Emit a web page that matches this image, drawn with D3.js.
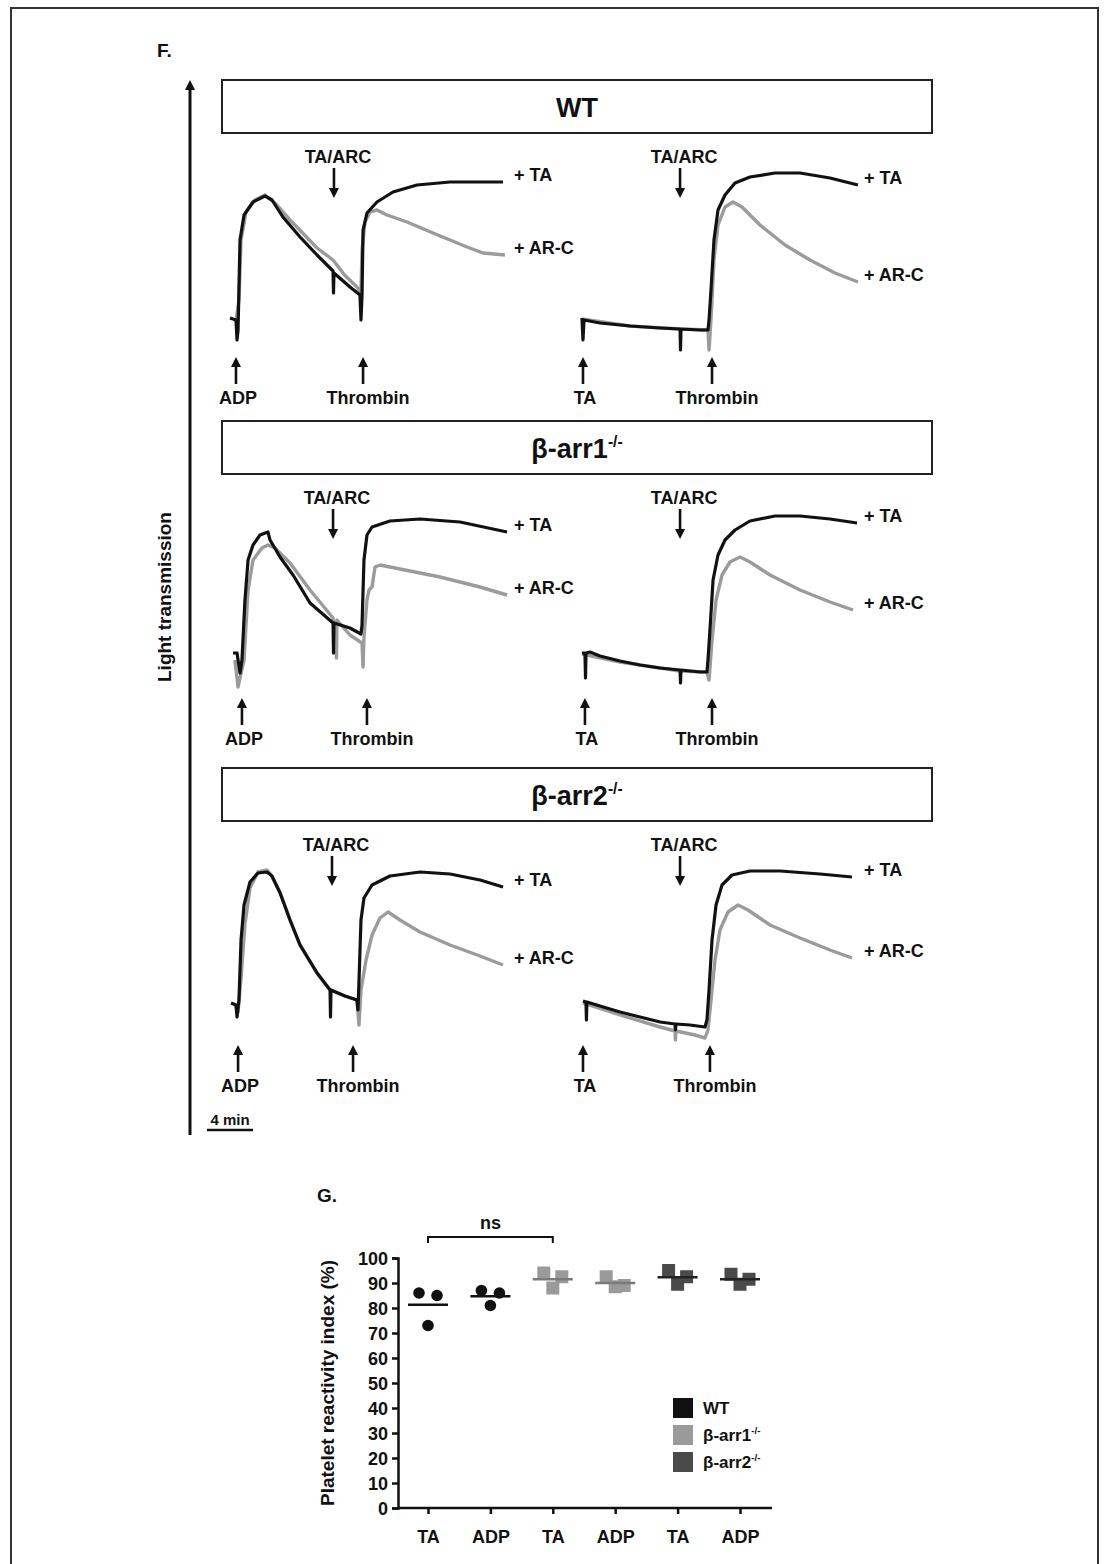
<!DOCTYPE html>
<html>
<head>
<meta charset="utf-8">
<script src="https://cdn.jsdelivr.net/npm/d3@7"></script>
<style>
  body { margin: 0; background: #fff; }
  text { font-family: "Liberation Sans", Arial, sans-serif; font-weight: bold; fill: #111; }
</style>
</head>
<body>
<svg id="fig" width="1104" height="1564"></svg>
<script>
// ---- aggregation traces, [time (min), light transmission (%)] ----
var wtAdpBlack = [[0,21],[0.52,20],[0.61,10],[0.7,15],[0.87,60],[1.22,72.5],[2.0,79],[3.04,82],[3.65,80],[4.6,71.5],[6.09,61.5],[7.57,52.5],[8.96,44.5],[9.0,33.5],[9.04,43.5],[10.43,36.5],[11.3,32.5],[11.39,20],[11.48,32],[11.57,65],[11.91,73.5],[12.78,79],[14.17,84],[16.26,87.5],[19.13,89],[23.74,89]];
var wtAdpGray = [[0.52,19],[0.78,30],[0.96,60],[1.39,74],[2.17,80],[3.04,82.5],[3.91,78.5],[5.22,70],[7.57,56],[8.96,50],[9.96,42.5],[11.04,36.5],[11.39,33.5],[11.48,55],[11.74,69],[12.17,74],[12.78,75],[13.65,72.5],[15.39,69],[17.65,63.5],[20.61,56.5],[22.0,53.5],[23.91,52.5]];
var wtTaBlack = [[0.17,21],[0.26,10],[0.35,20],[1.74,18.5],[4.35,17],[6.96,16],[8.7,15.5],[8.74,5],[8.78,15.5],[10.43,15],[11.13,15],[11.22,20],[11.39,35],[11.65,60],[12.0,75],[12.61,82.5],[13.48,88.5],[14.78,91.5],[16.96,93.5],[19.13,93.5],[21.74,91],[24.17,87.5]];
var wtTaGray = [[0.17,20.5],[4.35,17],[8.7,15.5],[11.13,15],[11.22,5],[11.39,20],[11.65,50],[12.0,67.5],[12.61,76.5],[13.3,79],[14.09,76.5],[15.65,67.5],[17.83,57.5],[20.0,50],[22.17,43.5],[24.17,39]];

var arr1AdpBlack = [[0.26,24],[0.61,24],[0.87,14],[1.04,20.5],[1.3,50.5],[1.57,70.5],[2.0,78],[2.61,83],[3.3,84.5],[3.48,80.5],[4.35,72],[5.48,63],[6.96,49],[8.96,39],[9.0,24],[9.04,39],[10.43,36.5],[11.39,33.5],[11.48,38],[11.65,70.5],[11.91,83],[12.35,87],[13.91,90],[16.52,91],[20.0,89.5],[24.09,84.5]];
var arr1AdpGray = [[0.43,20.5],[0.7,7],[1.22,20.5],[1.57,55.5],[2.0,70.5],[2.78,76.5],[3.3,78],[3.91,76.5],[5.22,69],[6.96,55.5],[8.96,41.5],[9.26,21.5],[9.3,40.5],[10.43,33],[11.48,29],[11.57,17],[11.65,32],[11.91,50.5],[12.09,55.5],[12.35,57],[12.61,67],[13.04,68],[14.78,66],[18.26,62],[21.74,57],[24.09,53]];
var arr1TaBlack = [[0.17,24],[0.43,24],[0.48,11.5],[0.52,24],[0.87,24.5],[1.74,22.5],[3.48,20],[5.22,18],[6.96,16.5],[8.7,15.5],[8.74,9],[8.78,15.5],[10.43,14.5],[11.04,14.5],[11.13,20.5],[11.3,35.5],[11.57,60.5],[12.0,73],[12.61,80.5],[13.48,85.5],[14.78,90],[16.96,92.5],[19.13,92.5],[21.74,91],[24.09,89]];
var arr1TaGray = [[0.17,23.5],[3.48,19.5],[8.7,15],[11.04,14.5],[11.22,10.5],[11.48,30.5],[11.83,50.5],[12.35,63],[13.04,69.5],[13.91,72],[14.78,69.5],[16.52,63],[19.13,55.5],[21.74,49.5],[23.74,45.5]];

var arr2AdpBlack = [[0.09,22.5],[0.52,21.5],[0.61,15.5],[0.78,24],[0.96,54],[1.22,71.5],[1.74,83],[2.43,87.5],[3.22,88],[3.65,86],[4.35,77.5],[5.22,64],[6.09,51.5],[7.57,37.5],[8.7,29],[8.74,15.5],[8.78,29],[10.0,26],[11.04,24],[11.13,19],[11.22,34],[11.39,64],[11.65,75],[12.35,81.5],[13.91,86],[16.52,88],[19.13,87],[21.74,84],[23.74,80.5]];
var arr2AdpGray = [[0.52,21.5],[0.7,18],[0.96,35],[1.3,62],[1.74,80],[2.43,88],[3.22,89],[3.57,86.5],[4.35,78],[5.22,64],[6.09,51.5],[7.57,37.5],[8.7,29],[10.0,26],[11.04,24],[11.22,11.5],[11.39,29],[11.83,44],[12.35,56.5],[13.04,65],[13.74,68],[14.78,64],[16.52,58],[19.13,51.5],[21.74,46],[23.74,41.5]];
var arr2TaBlack = [[0.26,23.5],[0.52,23],[0.56,14],[0.6,23],[1.74,21],[3.48,18],[5.22,15.5],[6.96,13],[8.26,12],[8.3,9],[8.34,12],[9.57,11.5],[10.87,10.5],[11.04,14],[11.22,29],[11.48,54],[11.83,71.5],[12.35,81.5],[13.22,86.5],[14.78,88.5],[17.39,88.5],[20.87,87],[23.65,85.5]];
var arr2TaGray = [[0.26,22.5],[3.48,16.5],[6.96,10.5],[8.26,8.5],[8.3,4],[8.34,8.5],[10.0,6.5],[10.87,5],[11.13,9],[11.39,24],[11.74,44],[12.17,59],[12.87,68],[13.74,71.5],[14.61,69],[16.52,61.5],[19.13,55],[21.74,49],[23.65,45]];

// injection times (min): agonist, TA/ARC, thrombin
var agonistTimes = [0.52, 0.26, 1.04, 0.43, 0.7, 0.26];
var taArcTimes = [9.04, 8.7, 8.96, 8.7, 8.87, 8.7];
var thrombinTimes = [11.57, 11.48, 11.91, 11.48, 10.7, 11.3];
var agonistNames = ['ADP', 'TA', 'ADP', 'TA', 'ADP', 'TA'];
var genotypes = ['WT', 'β-arr1', 'β-arr2'];

// ---- panel G: platelet reactivity index (%) ----
var groupNames = ['WT', 'β-arr1', 'β-arr2'];
var xLabels = ['TA', 'ADP', 'TA', 'ADP', 'TA', 'ADP'];
var wtTA = [86, 85, 73];
var wtADP = [87, 86, 81];
var arr1TA = [94, 92.5, 88];
var arr1ADP = [92.5, 89, 88.5];
var arr2TA = [95, 92.5, 89.5];
var arr2ADP = [93.5, 91.5, 89.5];
var yTicks = [0, 10, 20, 30, 40, 50, 60, 70, 80, 90, 100];

var svg = d3.select('#fig');
var font = '"Liberation Sans", Arial, sans-serif';

// outer frame
svg.append('rect')
  .attr('x', 11).attr('y', 8).attr('width', 1087).attr('height', 1600)
  .attr('fill', 'none').attr('stroke', '#333').attr('stroke-width', 2);

function arrow(g, x, yTail, yTip, w) {
  var dir = yTip < yTail ? -1 : 1;
  var head = 10;
  g.append('line')
    .attr('x1', x).attr('x2', x)
    .attr('y1', yTail).attr('y2', yTip - dir * head + dir)
    .attr('stroke', '#111').attr('stroke-width', w || 2.6);
  g.append('path')
    .attr('d', 'M' + (x - 5) + ',' + (yTip - dir * head) + 'L' + (x + 5) + ',' + (yTip - dir * head) + 'L' + x + ',' + yTip + 'Z')
    .attr('fill', '#111');
}

function genoLabel(sel, name, size) {
  sel.append('tspan').text(name);
  if (name !== 'WT') {
    sel.append('tspan').text('-/-')
      .attr('font-size', size * 0.58)
      .attr('dy', -size * 0.42);
  }
}

svg.append('text').attr('x', 157).attr('y', 57).attr('font-size', 19).text('F.');

// light transmission axis
var f = svg.append('g');
arrow(f, 190, 1135, 80, 3);
f.append('text')
  .attr('transform', 'translate(171,597) rotate(-90)')
  .attr('text-anchor', 'middle')
  .attr('font-size', 19)
  .text('Light transmission');

var rowTops = [80, 421, 768];
var traces = [
  [wtAdpBlack, wtAdpGray], [wtTaBlack, wtTaGray],
  [arr1AdpBlack, arr1AdpGray], [arr1TaBlack, arr1TaGray],
  [arr2AdpBlack, arr2AdpGray], [arr2TaBlack, arr2TaGray]
];

var xLeft;
rowTops.forEach(function(top, r) {
  var box = svg.append('g');
  box.append('rect')
    .attr('x', 222).attr('y', top).attr('width', 710).attr('height', 53)
    .attr('fill', '#fff').attr('stroke', '#222').attr('stroke-width', 2);
  box.append('text')
    .attr('x', 577).attr('y', top + 37)
    .attr('text-anchor', 'middle').attr('font-size', 27)
    .call(genoLabel, genotypes[r], 27);

  [0, 1].forEach(function(side) {
    var i = r * 2 + side;
    var x0 = side ? 580 : 230;
    var x = d3.scaleLinear().domain([0, 24]).range([x0, x0 + 276]);
    var y = d3.scaleLinear().domain([0, 100]).range([top + 280, top + 80]);
    if (i === 0) { xLeft = x; }
    var line = d3.line().x(function(d) { return x(d[0]); }).y(function(d) { return y(d[1]); });
    var g = svg.append('g');

    g.append('path').datum(traces[i][1])
      .attr('d', line).attr('fill', 'none')
      .attr('stroke', '#9b9b9b').attr('stroke-width', 3.4)
      .attr('stroke-linejoin', 'round');
    g.append('path').datum(traces[i][0])
      .attr('d', line).attr('fill', 'none')
      .attr('stroke', '#111').attr('stroke-width', 3.2)
      .attr('stroke-linejoin', 'round');

    // TA/ARC addition
    var xa = x(taArcTimes[i]);
    g.append('text').attr('x', xa + 4).attr('y', top + 83)
      .attr('text-anchor', 'middle').attr('font-size', 18).text('TA/ARC');
    arrow(g, xa, top + 88, top + 118);

    // agonist and thrombin
    var xg = x(agonistTimes[i]);
    arrow(g, xg, top + 304, top + 277);
    g.append('text').attr('x', xg + 2).attr('y', top + 324)
      .attr('text-anchor', 'middle').attr('font-size', 18).text(agonistNames[i]);
    var xt = x(thrombinTimes[i]);
    arrow(g, xt, top + 304, top + 277);
    g.append('text').attr('x', xt + 5).attr('y', top + 324)
      .attr('text-anchor', 'middle').attr('font-size', 18).text('Thrombin');

    var lastB = traces[i][0][traces[i][0].length - 1];
    var lastG = traces[i][1][traces[i][1].length - 1];
    g.append('text').attr('x', x(24) + 8).attr('y', y(lastB[1]) - 1)
      .attr('font-size', 18).text('+ TA');
    g.append('text').attr('x', x(24) + 8).attr('y', y(lastG[1]) - 1)
      .attr('font-size', 18).text('+ AR-C');
  });
});

// 4 min scale bar
svg.append('text').attr('x', xLeft(0)).attr('y', 1125)
  .attr('text-anchor', 'middle').attr('font-size', 15).text('4 min');
svg.append('line')
  .attr('x1', xLeft(-2)).attr('x2', xLeft(2))
  .attr('y1', 1130).attr('y2', 1130)
  .attr('stroke', '#111').attr('stroke-width', 2.5);

// ---- panel G ----
svg.append('text').attr('x', 317).attr('y', 1202).attr('font-size', 19).text('G.');

var groups = [
  { vals: wtTA, geno: 0 }, { vals: wtADP, geno: 0 },
  { vals: arr1TA, geno: 1 }, { vals: arr1ADP, geno: 1 },
  { vals: arr2TA, geno: 2 }, { vals: arr2ADP, geno: 2 }
];
var colors = ['#111', '#9a9a9a', '#4a4a4a'];
var meanColors = ['#111', '#7a7a7a', '#222'];

var yG = d3.scaleLinear().domain([0, 100]).range([1508, 1258]);
var xG = d3.scalePoint().domain(d3.range(xLabels.length)).range([428, 740]);
var jitter = d3.scalePoint().domain([0, 2, 1]).range([-9, 9]);

var gAxisY = svg.append('g').attr('transform', 'translate(398,0)')
  .call(d3.axisLeft(yG).tickValues(yTicks).tickSize(6).tickPadding(4));
var gAxisX = svg.append('g').attr('transform', 'translate(0,1508)')
  .call(d3.axisBottom(xG).tickSize(6).tickPadding(16).tickFormat(function(d) { return xLabels[d]; }));
gAxisX.select('.domain').attr('d', 'M398,0H772');
[gAxisY, gAxisX].forEach(function(a) {
  a.select('.domain').attr('stroke', '#111').attr('stroke-width', 2.5);
  a.selectAll('.tick line').attr('stroke', '#111').attr('stroke-width', 2.5);
  a.selectAll('.tick text').attr('font-family', font).attr('font-weight', 'bold')
    .attr('font-size', 18).attr('fill', '#111');
});
gAxisY.selectAll('.tick text').attr('dy', '0.35em');

svg.append('text')
  .attr('transform', 'translate(334,1383) rotate(-90)')
  .attr('text-anchor', 'middle').attr('font-size', 19)
  .text('Platelet reactivity index (%)');

groups.forEach(function(grp, k) {
  var cx = xG(k);
  var g = svg.append('g');
  var mean = d3.mean(grp.vals);
  g.append('line')
    .attr('x1', cx - 20).attr('x2', cx + 20)
    .attr('y1', yG(mean)).attr('y2', yG(mean))
    .attr('stroke', meanColors[grp.geno]).attr('stroke-width', 2.5);
  grp.vals.forEach(function(v, j) {
    var px = cx + jitter(j);
    if (grp.geno === 0) {
      g.append('circle').attr('cx', px).attr('cy', yG(v)).attr('r', 5.8).attr('fill', colors[0]);
    } else {
      g.append('rect').attr('x', px - 6.5).attr('y', yG(v) - 6.5)
        .attr('width', 13).attr('height', 13).attr('fill', colors[grp.geno]);
    }
  });
  if (grp.geno > 0) {
    g.select('line').raise();
  }
});

// ns bracket between WT TA and beta-arr1 TA
var yb = 1237;
svg.append('path')
  .attr('d', 'M' + xG(0) + ',' + (yb + 6) + 'V' + yb + 'H' + xG(2) + 'V' + (yb + 6))
  .attr('fill', 'none').attr('stroke', '#111').attr('stroke-width', 2);
svg.append('text').attr('x', (xG(0) + xG(2)) / 2).attr('y', 1229)
  .attr('text-anchor', 'middle').attr('font-size', 18).text('ns');

// legend
var leg = svg.append('g');
groupNames.forEach(function(name, i) {
  var ly = 1398 + i * 27;
  leg.append('rect').attr('x', 673).attr('y', ly).attr('width', 20).attr('height', 20)
    .attr('fill', colors[i]);
  leg.append('text').attr('x', 703).attr('y', ly + 16).attr('font-size', 17)
    .call(genoLabel, name, 17);
});
</script>
</body>
</html>
